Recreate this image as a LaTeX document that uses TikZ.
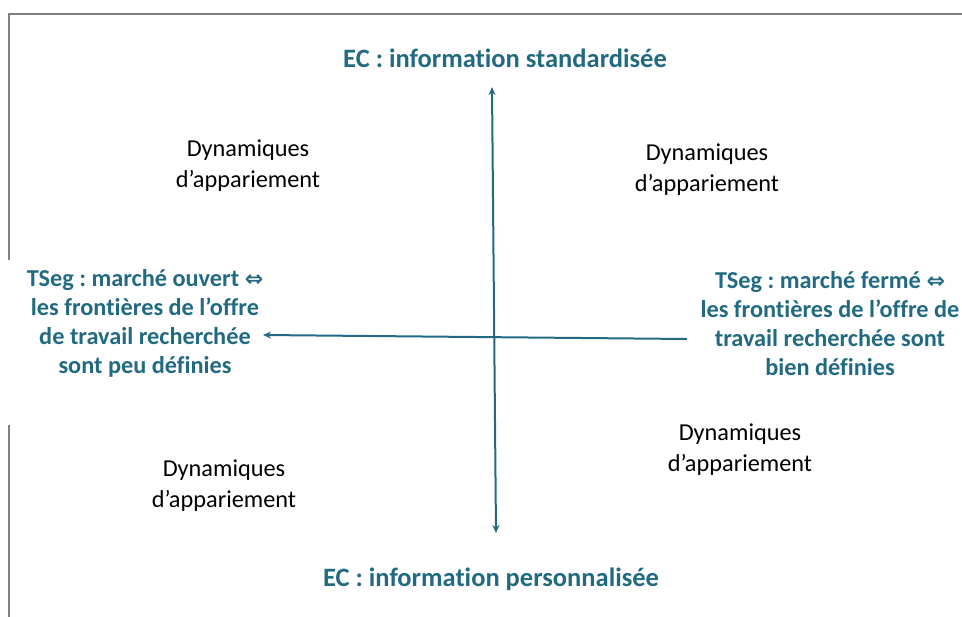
\documentclass[tikz,border=0pt]{standalone}
\usepackage{fontspec}
\setmainfont[Ligatures=NoCommon]{Carlito}
\newfontfamily\symfont{DejaVu Sans}
\usetikzlibrary{arrows.meta}
\definecolor{teal1}{RGB}{33,106,130}
\definecolor{frame}{RGB}{128,128,128}
\tikzset{
  axis/.style={draw=teal1, line width=2pt},
  tip/.style={-{Stealth[length=8pt,width=7pt]}},
  title/.style={font=\fontsize{26.5}{29}\selectfont\bfseries, text=teal1, align=center, inner sep=0pt},
  side/.style={font=\fontsize{24.3}{29}\selectfont\bfseries, text=teal1, align=center, inner sep=0pt},
  dyn/.style={font=\fontsize{24.3}{31}\selectfont, text=black, align=center, inner sep=0pt},
  framel/.style={draw=frame, line width=1.8pt}
}
\newcommand{\dblarrow}{{\symfont\fontsize{22}{29}\selectfont\char"21D4}}
\begin{document}
\frenchspacing
\begin{tikzpicture}[x=1pt,y=-1pt]
\useasboundingbox (0,0) rectangle (962,617);
% frame
\coordinate (f1) at (9,14);
\coordinate (f2) at (962,14);
\coordinate (f3) at (9,260);
\coordinate (f4) at (9,425);
\coordinate (f5) at (9,617);
\draw[framel] (f3) -- (f1) -- (f2);
\draw[framel] (f4) -- (f5);
% axes
\coordinate (vt) at (492,87);
\coordinate (vb) at (496,533);
\coordinate (hl) at (263,335);
\coordinate (hr) at (687,339);
\draw[axis, {Stealth[length=8pt,width=7pt]}-{Stealth[length=8pt,width=7pt]}] (vb) -- (vt);
\draw[axis, tip] (hr) -- (hl);
% titles
\node[title] (top) at (505,58) {EC : information standardisée};
\node[title] (bot) at (491,579) {EC : information personnalisée};
\node[side] (left) at (145,323) {TSeg : marché ouvert \dblarrow\\les frontières de l’offre\\de travail recherchée\\sont peu définies};
\node[side] (right) at (830,324) {TSeg : marché fermé \dblarrow\\les frontières de l’offre de\\travail recherchée sont\\bien définies};
% quadrants
\node[dyn] (q1) at (248,166) {Dynamiques\\d’appariement};
\node[dyn] (q2) at (707,170) {Dynamiques\\d’appariement};
\node[dyn] (q3) at (224,486) {Dynamiques\\d’appariement};
\node[dyn] (q4) at (740,450) {Dynamiques\\d’appariement};
\end{tikzpicture}
\end{document}
